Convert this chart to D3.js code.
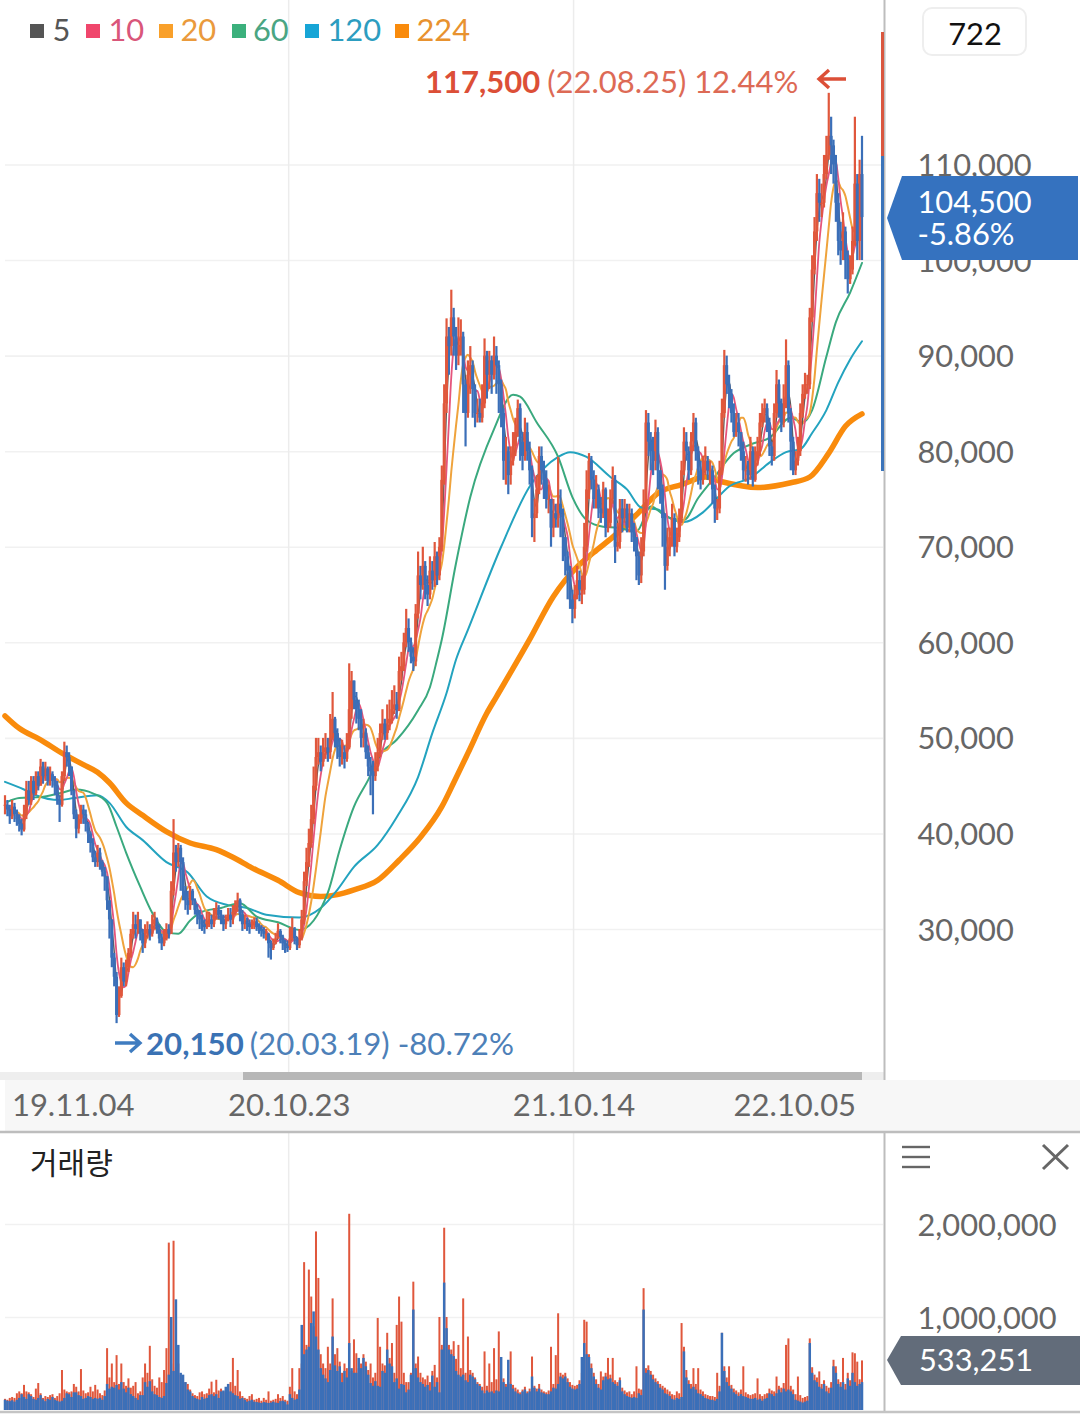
<!DOCTYPE html>
<html><head><meta charset="utf-8">
<script src="https://cdn.jsdelivr.net/npm/d3@7"></script>
<style>html,body{margin:0;padding:0;background:#fff;overflow:hidden}svg{display:block}text{font-family:Lato,"Noto Sans CJK KR",sans-serif}</style>
</head><body><svg id="c" width="1080" height="1415"></svg>
<script>
// Each bar stands for two trading days (thousands of won).
const closes=[43,42.5,41.8,42.8,42,41.5,41,40.4,42,44.5,
43.5,45.5,44.2,46,45,47,46,46.8,45.5,46.2,
45.5,45,43.5,43,46,48.5,48,47,44.5,42,
40.5,41.5,42.5,42,41,40,39,37.5,37,38,
37,36,35.5,33,31,27,25,21,23,26,
24.5,26,27.5,29.5,30.5,30,31,29.5,28.5,29.5,
30,29.5,30.5,31,30,29,28.5,29,30,29.5,
34,38,37,38.5,37,34,33,32.5,34,33,
32,31.5,31,30.5,30.2,30.8,31,30.5,31.5,32,
31.5,31,30.5,31,31.5,31,31.8,32.5,33,31.5,
30.5,30.8,30.5,30.2,30.5,30.8,30.2,30,29.8,29.5,
29.5,28.5,28,28.5,29,29.8,29.2,28.5,28.2,28,
29,30,29,28.3,29,31,35,37,39,41.5,
45,48,48.5,47.5,48.5,49,48.5,50,52,50.5,
49,48,48.5,47.8,49,53,56,54,53,52,
50,50.5,48.5,47,46.5,46,47,48.5,50.5,51.5,
50.5,51.5,52,53,53.5,53,57,57.5,60,61.5,
60,58.5,58,63,67,66,68,66,65,67.5,
66.5,69,67,70,77,85,92,91,94,92,
90,91,92,87,84,88,89,86.5,84,84,
83.5,85,90,88,89.5,88,90,89,87,84,
79,80,77.5,79,80.5,82,84.5,81,79.5,82,
80,78,73,73.5,76,79.5,78,77,75,75,
72,73.5,73,74.5,73.5,71,69,67.5,64.5,63.5,
65,66.5,65.5,65.5,70,76,79,77,75,76,
74,73.5,76,72,72.5,75,77,70,70.5,74,
73,74,72,73.5,71.5,71,69,67,69.5,74,
83,81,80,79,82,78,76,73,68,70,
71,73,70,71,73,78,81,80,78,81,
83,80,78,77,78,79,78,78,76,74,
74,78,84,89,87,86,84,82,83,82,
80,78,78,77.5,80,77,79,80,83,84,
84.5,83,80.5,79.5,84,87,85,83,85,89,
84,81,78,79,80,84,86,87,87,94,
99,103,107,106,106,109,111,113,112,110,
106,102,101,103,100,98,99,102,108,102,
109,104.5];
const highs=[44,43.5,43,43.5,43.2,42.5,42,41.5,43,45.5,
45.5,46,46,46.5,46.5,47.8,47.5,47.5,47,47,
46.5,46,45.5,44,46.5,49.6,49.2,48.5,47,44.5,
42.5,42,43,43,42.5,41.2,40.2,39.5,38.2,38.8,
38.5,37.2,36.5,35.5,33,31,27.5,25.5,24,27,
26.5,26.8,28,30,31.8,31.5,31.8,31,30,30.5,
30.8,30.5,31.5,31.8,31.2,30.5,29.5,30,30.6,30.5,
35,41.5,38.8,39,38.8,37.5,34.5,34,34.5,34.2,
33.2,32.6,32,31.5,31,31.8,31.8,31.5,32.2,32.8,
32.5,32,31.5,31.5,32.2,32.2,32.5,33,33.8,33.2,
32,31.5,31.2,31,31,31.2,31.2,30.6,30.4,30.2,
30,29.6,28.8,29,29.6,30.6,30,29.4,28.9,28.8,
30.2,31.2,30.2,29.2,30,32,36,38.5,40.5,43,
47,50,50,49.2,50,50.5,50,52.5,54.8,52.2,
51,50,49.8,49.2,50.5,57.8,57,55.5,54.8,54,
53,52,51,49.2,48,47.6,48.5,50,51.5,53,
52,53.5,54,55,55.5,54.8,58.5,59,61,63.5,
62.5,60.5,59.5,64,69.5,68,70,68.5,67,69,
68.5,70.5,69.5,71,78.5,87,93.9,93,96.9,95,
93,94,93.8,92.5,87.5,89.5,91,89.5,87,85.5,
85.5,87,91.8,90.5,90.5,90,92,91,89.5,87.5,
84.5,81.5,80.5,80.5,82,83.5,85.4,85,82,83.5,
83,81,78.5,75,77.5,80.5,80.5,79,78,76.5,
75,75,74.5,79.4,76,74,71,69.5,68,65.5,
66,68,67.5,67,72.5,78,79.8,79.5,78,77.5,
76.5,75.2,76.8,76.2,74,76,78.4,77.5,72.5,75,
75,75,74.5,74.5,74,72.5,71,69.5,71,76,
84.3,84,82,81.5,83.3,82.5,78,76.5,73.5,72,
72,74.5,73.5,72,74,79,82.5,82,80.5,82,
84,83.5,80.5,79,79.5,80.5,79.5,79,78.5,76.5,
75,79,85.5,90.6,90,88,86.5,85,84,84,
82,81,79.5,79,81.5,80.5,80.5,81.5,84,85,
85.5,85,83.5,81,85,88.5,87.5,85.5,87,91.7,
89.5,84.5,81.5,80,81.5,85,87,88.2,88,95,
100.5,104.5,109,108.5,108,111,113,117.5,115,112.6,
111,107,104,105,103.5,101,100.5,103.5,115,109,
110.5,113];
const lows=[42,41.8,41,41.5,41.2,40.8,40.2,39.8,40.2,41.5,
43,43,43.5,44,44.5,45,45.2,45.5,45,45,
44.8,44,43,41.2,42.8,45.5,47,46,44,41.5,
39.5,40,41,41,40.2,39,38,37,36.5,36.5,
36.2,35.5,34,32,29,26,24,20.15,20.8,22.8,
24,24,25.5,27,29,29,29.5,28.8,27.5,28,
29,28.8,29.2,30,29.5,28.5,27.8,28.2,28.8,29,
29.5,33.5,36,36.5,34,33,32,31.5,32,32.5,
31.5,30.5,30,29.8,29.5,30,30.2,30,30.2,31,
31,30.5,29.8,30,30.8,30.2,30.5,31.5,31.8,30.8,
29.8,30,29.8,29.5,30,30,29.8,29.5,29.2,29,
28.8,27,26.8,27.8,28.4,29,28.5,27.8,27.5,27.6,
27.8,28.8,28.4,27.8,28,28.8,30.5,34.5,36.5,38.5,
41,44.5,47.2,46.5,47,47.8,47.5,47.8,49.8,49,
47.8,47,47.2,46.8,47.5,48.8,52,53,51.5,50.8,
49,49,47.8,46,44,42,45.5,46.5,48,49.8,
49.8,49.8,50.8,51.5,52.5,52,52.8,56,57,59.5,
59,57.8,57,57.5,62.5,64.5,65.5,64.5,63.8,64.5,
65.5,65.8,66,66.5,69.5,76.5,84,88,90,90,
88.5,89,90,84,80.5,83.5,86,83.5,82.5,83,
83,83,84.5,85.5,86.5,86,87.5,86,84,82.5,
77,76.5,75.5,76.5,78.5,79.5,81.5,79,78,79,
79,76.5,71,70.5,73,75.5,76.5,75,74,73.5,
70,71,72,72,71,68.5,67,64.5,63.5,62,
62.5,64.5,64.3,64,65,69.5,75,76,74,74,
73,72.5,73,71,71.5,72,74.5,68.3,69.5,69.8,
71.5,72.5,71.5,71.5,70.5,69.5,66.5,66,66.2,69,
73.5,79.5,78,77.5,78,76,74.5,70,65.5,67.5,
69,70,69,69.4,70.5,72.5,77.5,79,77,77.5,
80,79,76.5,76,76.5,77.5,77,76.5,74.5,72.5,
72.8,73.5,77.5,83.5,86,84.5,83,81.5,81.5,80.5,
79,77,76.8,76.5,77,76.3,76.8,78.5,79.5,82.5,
83,82,79.5,78.5,79,83.5,83.5,82,82.5,84.5,
83,78,77.5,77.5,78.5,79.5,83.5,85.5,86,86.5,
93.5,98.5,102,104,104.5,105.5,108.5,110.5,109,108,
104,100.5,99.5,100,98,96.5,97.5,98.5,101.5,100,
100,100];
// Volume read per bar, in thousands of shares: the rising day and the falling day of each pair.
const volumeUp=[120,110,130,140,130,180,200,180,270,200,
190,170,140,230,290,180,130,150,140,160,
170,130,150,180,430,220,200,190,200,280,
250,200,440,210,180,190,250,200,270,220,
180,160,210,665,350,500,300,590,280,500,
300,260,340,240,260,300,180,200,350,500,
400,690,330,260,240,350,300,430,665,1800,
500,1820,460,500,380,300,300,280,220,180,
160,150,190,200,170,180,230,305,190,325,
210,230,200,190,280,300,560,260,430,200,
150,130,120,150,170,110,120,130,100,130,
110,200,100,110,120,170,130,150,110,100,
250,450,200,170,450,500,1590,700,1510,1220,
900,1920,1420,600,500,450,680,500,1200,600,
665,520,400,500,450,2110,420,760,610,450,
500,600,520,430,500,350,400,990,680,500,
480,830,560,720,400,915,1220,950,400,300,
300,400,1380,500,575,400,350,330,370,300,
420,485,350,1000,700,1960,1000,700,650,740,
550,700,450,1200,400,790,430,400,350,300,
280,250,630,260,500,300,665,330,845,300,
340,280,300,630,270,240,220,190,220,250,
200,230,575,260,230,280,220,200,190,210,
680,280,590,1040,400,380,400,340,300,270,
260,270,320,400,970,950,600,500,400,330,
280,415,360,400,560,380,560,320,300,350,
240,210,190,200,170,200,470,230,220,1310,
450,480,420,380,340,310,280,260,240,220,
200,170,160,200,180,935,680,430,320,280,
450,280,450,220,200,170,160,150,150,140,
400,260,830,470,350,470,270,230,210,190,
220,470,190,170,160,170,180,340,170,150,
170,180,230,210,200,360,260,240,290,700,
770,260,220,170,360,160,130,140,150,770,
460,380,350,415,280,320,260,240,300,540,
470,330,300,560,280,400,320,620,610,520,
330,533];
const volumeDown=[110,100,95,105,90,110,130,170,140,120,
170,150,120,110,130,160,115,95,120,110,
140,110,100,90,100,130,180,170,140,190,
190,160,150,120,130,150,140,120,130,120,
130,110,150,280,230,250,240,270,220,300,
230,190,240,170,150,130,110,160,160,300,
250,310,200,170,160,140,130,150,290,380,
1000,420,1190,700,400,380,300,220,200,150,
130,120,110,140,120,130,160,170,150,170,
130,200,210,250,280,200,180,160,150,120,
130,110,90,100,110,90,85,80,75,85,
80,75,80,90,80,75,95,100,90,60,
170,130,110,120,220,915,600,650,680,935,
1060,790,650,450,380,340,300,430,790,480,
420,470,300,420,350,720,450,400,400,560,
450,560,470,380,290,260,310,260,250,420,
400,650,500,470,300,340,230,280,270,190,
220,380,1080,450,350,300,280,250,270,210,
370,250,300,190,650,1370,880,650,600,580,
420,380,360,380,320,300,380,360,330,280,
260,210,180,210,190,200,180,210,200,570,
300,250,540,280,230,200,180,170,200,220,
180,200,360,240,200,230,190,180,170,170,
200,240,230,280,360,340,360,300,250,230,
220,230,280,570,720,600,570,450,360,280,
240,220,320,360,330,340,300,280,260,320,
200,170,150,140,130,140,130,180,160,1080,
400,430,380,330,300,280,240,220,180,170,
150,120,110,130,120,140,630,350,280,230,
250,220,180,170,150,130,120,110,110,100,
120,200,830,420,300,260,230,190,170,150,
170,150,140,130,120,120,130,110,120,100,
120,130,180,170,150,180,220,190,230,200,
220,200,170,110,100,90,80,90,100,720,
400,320,300,250,230,280,200,180,240,470,
400,280,250,300,220,340,260,400,300,260,
280,300];
const ma60Bars=[1,6,15,23,30,37,43,47,51,57,62,68,73,78,83,91,99,106,115,124,136,141,147,153,158,165,174,179,182,184,190,196,206,214,217,224,233,239,245,252,258,266,272,279,286,292,298,307,314,322,331,336,340,346,350,356,361];
const ma60Vals=[43.3,43.7,43.8,44.2,44.6,44.2,43.2,40.7,38,34.4,31.7,29.7,29.5,30.9,31.8,32.2,32.7,31.3,30.7,29.9,33.8,38.3,42.8,45.6,48.2,49.8,52.9,55.3,58.2,60.3,68.3,75.2,82.3,85.9,85.7,83,79.4,75.2,72.8,72.1,72,71.6,74.2,73.1,72.8,75.1,77,79.8,80.7,81.4,83.5,83,84.3,89.9,93.5,96.6,99.7];
const ma120Bars=[0,8,13,23,29,39,44,51,58,68,77,85,94,102,110,124,133,140,147,157,165,174,180,186,190,195,209,221,233,238,245,255,262,268,275,280,286,294,300,305,314,322,329,335,340,346,351,356,361];
const ma120Vals=[45.4,44.6,44,43.5,43.7,44,43.2,40.7,39.3,37,35.9,33.4,32.5,32.2,31.5,31.2,32.2,34.1,36.5,38.8,41.7,45.9,50.5,54.7,58.2,61.3,70,76.3,79.4,79.9,79.4,77.3,76,74.1,73.9,73,72.6,73.6,75.1,76.3,77.2,78.8,79.9,80.2,81.9,84.3,87.2,89.6,91.5];
const ma224Bars=[0,6,15,24,33,39,44,51,58,68,78,89,96,104,115,124,133,140,147,157,166,175,184,189,195,203,207,221,231,241,248,256,267,275,285,295,302,317,331,339,347,354,361];
const ma224Vals=[52.3,51,49.8,48.4,47.2,46.4,45.3,43.2,41.9,40.2,39,38.3,37.5,36.4,35.1,33.8,33.4,33.6,34.1,35.1,37.2,39.6,42.8,45.3,48.4,52.6,54.3,60.3,64.8,67.9,69.4,71,73.6,75.6,76.5,77.3,76.8,76.2,76.7,77.3,79.8,82.6,83.9];
const priceTicks=[30,40,50,60,70,80,90,100,110];
const volumeTicks=[1000,2000];
const dateLabels=["19.11.04","20.10.23","21.10.14","22.10.05"];
const dateDays=[57,239,479,665];
const legendNames=["5","10","20","60","120","224"];
const legendColors=["#555555","#f0466c","#f9a02a","#3bb07c","#17a5d6","#f98b0c"];
const legendTextColors=["#555555","#d9567a","#ea9a3c","#4aa583","#2c9dc0","#e8922f"];

const RED="#e0573c",BLUE="#3b6fb8",FS=30.8;
const svg=d3.select("#c");
const x=d3.scaleLinear().domain([0,722]).range([5,862]);   // trading days
const y=d3.scaleLinear().domain([30,110]).range([929,164.5]);
const yv=d3.scaleLinear().domain([0,2000]).range([1410,1224]);
const barX=i=>x(i*2);

// background grid
const gridY=d3.axisLeft(y).tickValues(priceTicks).tickSize(-878).tickFormat("");
const gg=svg.append("g").attr("transform","translate(5,0)").call(gridY);
gg.select(".domain").remove();gg.selectAll("line").attr("stroke","#f1f1f1").attr("stroke-width",1.6);
const gridV=d3.axisLeft(yv).tickValues(volumeTicks).tickSize(-878).tickFormat("");
const gv=svg.append("g").attr("transform","translate(5,0)").call(gridV);
gv.select(".domain").remove();gv.selectAll("line").attr("stroke","#f1f1f1").attr("stroke-width",1.6);
[239,479].forEach(d=>svg.append("line").attr("x1",x(d)).attr("x2",x(d)).attr("y1",0).attr("y2",1410).attr("stroke","#ececec").attr("stroke-width",1.5));

const mean=(w)=>closes.map((_,i)=>d3.mean(closes.slice(Math.max(0,i-w+1),i+1)));
const lineC=d3.line().x((d,i)=>barX(i)).y(d=>y(d)).curve(d3.curveMonotoneX);
const knotLine=(bars)=>d3.line().x((d,i)=>barX(bars[i])).y(d=>y(d)).curve(d3.curveMonotoneX);
const path=(d,c,w)=>svg.append("path").attr("d",d).attr("fill","none").attr("stroke",c).attr("stroke-width",w).attr("stroke-linecap","round").attr("stroke-linejoin","round");

path(knotLine(ma224Bars)(ma224Vals),"#f98b0c",5.5);
path(knotLine(ma120Bars)(ma120Vals),"#23a3bf",2);
path(knotLine(ma60Bars)(ma60Vals),"#3aa97e",2);
path(lineC(mean(10)),"#efa33c",2);
path(lineC(mean(3)),"#5a5a5a",1.4);
path(lineC(mean(5)),"#e5557c",1.8);

// candles
const bars=closes.map((c,i)=>{const o=i?closes[i-1]:c;return{i,o,c,h:Math.max(highs[i],o,c),l:Math.min(lows[i],o,c),up:c>=o};});
const ordered=bars.filter(d=>d.up).concat(bars.filter(d=>!d.up));
const cg=svg.append("g");
cg.selectAll("line").data(ordered).join("line")
 .attr("x1",d=>barX(d.i)).attr("x2",d=>barX(d.i)).attr("y1",d=>y(d.h)).attr("y2",d=>y(d.l))
 .attr("stroke",d=>d.up?RED:BLUE).attr("stroke-width",2.2);
cg.selectAll("rect").data(ordered).join("rect")
 .attr("x",d=>barX(d.i)-1.5).attr("width",3)
 .attr("y",d=>y(Math.max(d.o,d.c))).attr("height",d=>Math.max(1,Math.abs(y(d.o)-y(d.c))))
 .attr("fill",d=>d.up?RED:BLUE);

// volume
const vg=svg.append("g");
vg.selectAll("rect.u").data(volumeUp).join("rect").attr("class","u")
 .attr("x",(d,i)=>barX(i)-1).attr("width",2).attr("y",d=>yv(d)).attr("height",d=>yv(0)-yv(d)).attr("fill",RED);
vg.selectAll("rect.d").data(volumeDown).join("rect").attr("class","d")
 .attr("x",(d,i)=>barX(i)-1.25).attr("width",2.5).attr("y",d=>yv(d)).attr("height",d=>yv(0)-yv(d)).attr("fill",BLUE);

// chrome
svg.append("rect").attr("x",0).attr("y",1072).attr("width",884).attr("height",8).attr("fill","#eeeeee");
svg.append("rect").attr("x",243).attr("y",1072).attr("width",619).attr("height",8).attr("fill","#b7b7b7");
svg.append("rect").attr("x",5).attr("y",1080).attr("width",1075).attr("height",51).attr("fill","#f7f7f7");
svg.append("line").attr("x1",0).attr("x2",1080).attr("y1",1132).attr("y2",1132).attr("stroke","#bdbdbd").attr("stroke-width",2.4);
svg.append("line").attr("x1",0).attr("x2",1080).attr("y1",1412).attr("y2",1412).attr("stroke","#c4c4c4").attr("stroke-width",2.4);
[[0,1080],[1133,1411]].forEach(([a,b])=>svg.append("line").attr("x1",884.5).attr("x2",884.5).attr("y1",a).attr("y2",b).attr("stroke","#bdbdbd").attr("stroke-width",2));
svg.append("line").attr("x1",882.5).attr("x2",882.5).attr("y1",32).attr("y2",156).attr("stroke","#d9573f").attr("stroke-width",3);
svg.append("line").attr("x1",882.5).attr("x2",882.5).attr("y1",156).attr("y2",471).attr("stroke","#3b74ba").attr("stroke-width",3);

// axes
const styleAxis=g=>{g.select(".domain").remove();g.selectAll("text").attr("fill","#666").attr("font-size",FS).attr("text-anchor","start").attr("dy","0.36em");g.selectAll("line").remove();};
svg.append("g").attr("transform","translate(917.5,0)").call(d3.axisRight(y).tickValues(priceTicks).tickSize(0).tickPadding(0).tickFormat(d=>d3.format(",")(d*1000))).call(styleAxis);
svg.append("g").attr("transform","translate(917.5,0)").call(d3.axisRight(yv).tickValues(volumeTicks).tickSize(0).tickPadding(0).tickFormat(d=>d3.format(",")(d*1000))).call(styleAxis);
const ax=svg.append("g").attr("transform","translate(0,1105)").call(d3.axisBottom(x).tickValues(dateDays).tickSize(0).tickPadding(0).tickFormat((d,i)=>dateLabels[i]));
ax.select(".domain").remove();ax.selectAll("line").remove();
ax.selectAll("text").attr("fill","#666").attr("font-size",31).attr("y",0).attr("dy","0.36em").attr("text-anchor","middle");

// legend
const legX=[30,86,159,232,305,395],legT=[52.5,108.5,180.5,253,327.5,416.5];
legendNames.forEach((n,i)=>{
 svg.append("rect").attr("x",legX[i]).attr("y",24).attr("width",14).attr("height",14).attr("fill",legendColors[i]);
 svg.append("text").attr("x",legT[i]).attr("y",41).attr("font-size",FS).attr("fill",legendTextColors[i]).text(n);
});

// value box
svg.append("rect").attr("x",923).attr("y",8).attr("width",103).attr("height",47).attr("rx",9).attr("fill","#fff").attr("stroke","#eeeeee").attr("stroke-width",2);
svg.append("text").attr("x",975).attr("y",45).attr("font-size",FS).attr("text-anchor","middle").attr("fill","#111").text("722");

// high / low notes
const hi=svg.append("text").attr("x",425).attr("y",92.5).attr("font-size",31).attr("fill","#dd6a55");
hi.append("tspan").attr("font-weight","700").attr("fill","#dc4f37").text("117,500");
hi.append("tspan").attr("dx",7).text("(22.08.25) 12.44%");
const arrow=(pts,c)=>svg.append("path").attr("d",pts).attr("fill","none").attr("stroke",c).attr("stroke-width",3.4);
arrow("M819,79H846M829,70L819,79L829,88","#dc4f37");
arrow("M115,1043H140M130,1034L140,1043L130,1052","#3f7cc0");
const lo=svg.append("text").attr("x",146).attr("y",1054.5).attr("font-size",31.2).attr("fill","#4d80b8");
lo.append("tspan").attr("font-weight","700").attr("fill","#3a72b4").text("20,150");
lo.append("tspan").attr("dx",6).text("(20.03.19) -80.72%");

// current price tags
svg.append("path").attr("d","M887,218L902,176H1078V260H902Z").attr("fill","#3572bf");
svg.append("text").attr("x",917.5).attr("y",212.5).attr("font-size",FS).attr("fill","#fff").text("104,500");
svg.append("text").attr("x",917.5).attr("y",245).attr("font-size",FS).attr("fill","#fff").text("-5.86%");
svg.append("path").attr("d","M887,1360L901,1336H1080V1385H901Z").attr("fill","#626c7a");
svg.append("text").attr("x",919).attr("y",1371).attr("font-size",FS).attr("fill","#fff").text("533,251");

// volume panel header
svg.append("text").attr("x",30).attr("y",1174).attr("font-size",30).attr("fill","#222").attr("font-family","'Noto Sans CJK KR'").text("거래량");
[1147,1157,1167].forEach(v=>svg.append("line").attr("x1",902).attr("x2",930).attr("y1",v).attr("y2",v).attr("stroke","#666").attr("stroke-width",2.4));
svg.append("path").attr("d","M1043,1145L1068,1169M1068,1145L1043,1169").attr("stroke","#666").attr("stroke-width",3).attr("fill","none");
</script></body></html>
